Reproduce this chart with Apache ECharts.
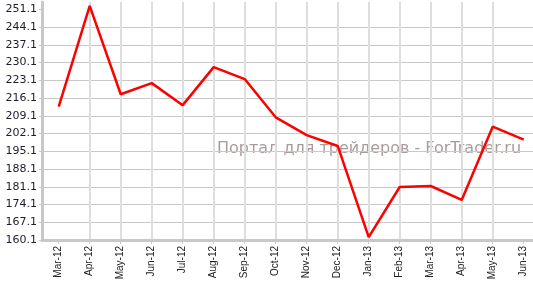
<!DOCTYPE html>
<html>
<head>
<meta charset="utf-8">
<script src="https://cdn.jsdelivr.net/npm/echarts@6/dist/echarts.min.js"></script>
<style>html,body{margin:0;padding:0;background:#fff;overflow:hidden}#c{width:533px;height:282px}</style>
</head>
<body>
<div id="c"></div>
<script>
const categories = ['Mar-12','Apr-12','May-12','Jun-12','Jul-12','Aug-12','Sep-12','Oct-12','Nov-12','Dec-12','Jan-13','Feb-13','Mar-13','Apr-13','May-13','Jun-13'];
const values = [212.7, 252.5, 217.6, 222.0, 213.3, 228.3, 223.6, 208.5, 201.5, 197.2, 161.2, 181.0, 181.4, 175.9, 204.8, 199.7];
const yTickLabels = ['160.1','167.1','174.1','181.1','188.1','195.1','202.1','209.1','216.1','223.1','230.1','237.1','244.1','251.1'];
const watermark = 'Портал для трейдеров - ForTrader.ru';

const yTicks = yTickLabels.map(Number);
const xTicks = categories.map((c, i) => i);
const chart = echarts.init(document.getElementById('c'), null, {renderer: 'canvas'});
chart.setOption({
  animation: false,
  backgroundColor: '#fff',
  grid: {left: 42, right: 0, top: 2, bottom: 42, containLabel: false, outerBoundsMode: 'none'},
  graphic: [{
    type: 'text', left: 217, top: 141, z: 0, silent: true,
    style: {text: watermark, fill: '#a89c9c', font: '16px "DejaVu Sans"'}
  }],
  xAxis: {
    type: 'value', min: -0.539, max: 15.3,
    axisLine: {show: true, onZero: false, lineStyle: {color: '#c8c8c8', width: 3}},
    axisTick: {show: true, length: 4, customValues: xTicks, lineStyle: {color: '#c8c8c8', width: 1}},
    splitLine: {show: true, showMinLine: false, showMaxLine: false, lineStyle: {color: '#dedede', width: 2}},
    axisLabel: {
      customValues: xTicks, rotate: 90, margin: 6,
      fontFamily: 'Liberation Sans', fontSize: 10, color: '#222',
      formatter: v => categories[Math.round(v)] || ''
    }
  },
  yAxis: {
    type: 'value', min: 160.1, max: 254.0,
    axisLine: {show: true, onZero: false, lineStyle: {color: '#c8c8c8', width: 3}},
    axisTick: {show: true, length: 3, customValues: yTicks, lineStyle: {color: '#c8c8c8'}},
    splitLine: {show: true, showMaxLine: false, lineStyle: {color: '#c8c8c8', width: 1}},
    axisLabel: {
      customValues: yTicks, margin: 5,
      fontFamily: 'DejaVu Sans', fontSize: 11, color: '#1c1c2c',
      formatter: v => v.toFixed(1)
    }
  },
  series: [{
    type: 'line', z: 5,
    data: values.map((v, i) => [i, v]),
    showSymbol: false, symbol: 'none',
    lineStyle: {color: '#ff0000', width: 2.5}
  }]
});
</script>
</body>
</html>
